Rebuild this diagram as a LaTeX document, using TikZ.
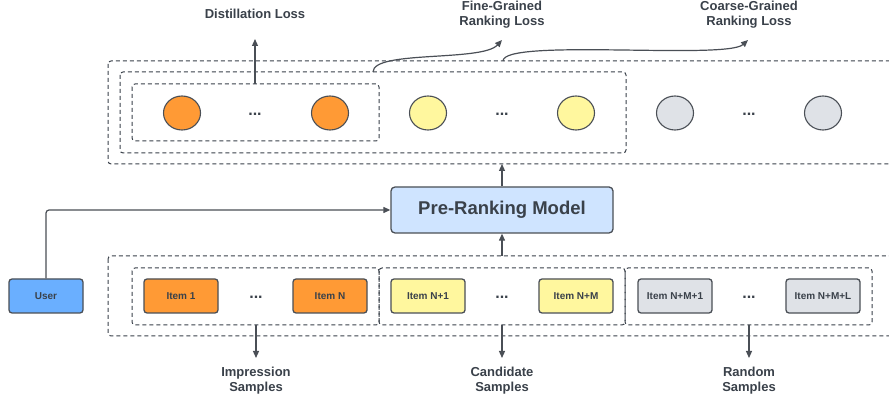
\documentclass[tikz,border=0pt]{standalone}
\usepackage{fontspec}
\setmainfont{Liberation Sans}
\usetikzlibrary{arrows.meta}
\definecolor{txt}{HTML}{3A414A}
\definecolor{ln}{HTML}{4A4F56}
\definecolor{orng}{HTML}{FF9A35}
\definecolor{ylw}{HTML}{FFF79E}
\definecolor{gry}{HTML}{DFE2E7}
\definecolor{mdl}{HTML}{CFE4FF}
\definecolor{usr}{HTML}{6AAFFF}
\tikzset{
  grp/.style={draw=txt, line width=1pt, dash pattern=on 4pt off 3pt, rounded corners=3pt},
  itembox/.style={draw=ln, line width=1.3pt, rounded corners=3pt, minimum width=74pt, minimum height=34pt, inner sep=0pt, font=\bfseries\fontsize{10}{12}\selectfont, text=txt},
  circ/.style={ellipse, draw=ln, line width=1.1pt, minimum width=37pt, minimum height=34pt, inner sep=0pt},
  lbl/.style={font=\bfseries\fontsize{13}{15}\selectfont, text=txt, align=center, inner sep=0pt},
  dots/.style={font=\bfseries\fontsize{16}{16}\selectfont, text=txt, inner sep=0pt},
  arr/.style={draw=ln, line width=1.2pt, -{Triangle[length=7pt,width=6pt]}},
}
\usetikzlibrary{shapes.geometric}
\begin{document}
\begin{tikzpicture}[x=1pt,y=-1pt]
\useasboundingbox (0,0) rectangle (889,403);
\fill[white] (0,0) rectangle (889,403);
\clip (0,0) rectangle (889,403);
% top groups
\draw[grp] (108,61) rectangle (900,164);
\draw[grp] (120,72) rectangle (626,153);
\draw[grp] (132,84) rectangle (379,141);
\node[circ, fill=orng] (c1) at (182,113) {};
\node[dots] (d1) at (255,114) {...};
\node[circ, fill=orng] (c2) at (330,113) {};
\node[circ, fill=ylw] (c3) at (428,113) {};
\node[dots] (d2) at (502,114) {...};
\node[circ, fill=ylw] (c4) at (576,113) {};
\node[circ, fill=gry] (c5) at (675,113) {};
\node[dots] (d3) at (749,114) {...};
\node[circ, fill=gry] (c6) at (823,113) {};
% loss labels
\node[lbl] (dl) at (255,14) {Distillation Loss};
\node[lbl] (fl) at (502,14.5) {Fine-Grained\\Ranking Loss};
\node[lbl] (cl) at (749,14.5) {Coarse-Grained\\Ranking Loss};
\coordinate (dsrc) at (255,84);
\coordinate (dtip) at (255,39);
\coordinate (fsrc) at (373,72);
\coordinate (ftip) at (502,40);
\coordinate (csrc) at (503,61);
\coordinate (ctip) at (748,40);
\draw[arr] (dsrc) -- (dtip);
\draw[arr] (fsrc) .. controls (373,50) and (482,62) .. (ftip);
\draw[arr] (csrc) .. controls (503,38) and (726,60) .. (ctip);
% model
\node[draw=ln, line width=1.3pt, rounded corners=4pt, fill=mdl, minimum width=222pt, minimum height=46pt, inner sep=0pt, font=\bfseries\fontsize{18.5}{20}\selectfont, text=txt] (model) at (502,210) {Pre-Ranking Model};
\coordinate (mtop) at (502,164);
\coordinate (mbot) at (502,256);
\draw[arr] (model.north) -- (mtop);
\draw[arr] (mbot) -- (model.south);
% user
\node[itembox, fill=usr] (user) at (46,296) {User};
\draw[arr, rounded corners=3pt] (user.north) |- (model.west);
% bottom groups
\draw[grp] (108,256) rectangle (900,336);
\draw[grp] (132,268) rectangle (379,325);
\draw[grp] (379,268) rectangle (625,325);
\draw[grp] (625,268) rectangle (872,325);
\node[itembox, fill=orng] (i1) at (181,296) {Item 1};
\node[dots] (e1) at (256,297) {...};
\node[itembox, fill=orng] (i2) at (330,296) {Item N};
\node[itembox, fill=ylw] (i3) at (428,296) {Item N+1};
\node[dots] (e2) at (502,297) {...};
\node[itembox, fill=ylw] (i4) at (576,296) {Item N+M};
\node[itembox, fill=gry] (i5) at (675,296) {Item N+M+1};
\node[dots] (e3) at (749,297) {...};
\node[itembox, fill=gry] (i6) at (823,296) {Item N+M+L};
% sample labels
\node[lbl] (il) at (256,380.5) {Impression\\Samples};
\node[lbl] (cdl) at (502,380.5) {Candidate\\Samples};
\node[lbl] (rl) at (749,380.5) {Random\\Samples};
\coordinate (s1) at (256,325);
\coordinate (s2) at (502,325);
\coordinate (s3) at (749,325);
\coordinate (t1) at (256,358);
\coordinate (t2) at (502,358);
\coordinate (t3) at (749,358);
\draw[arr] (s1) -- (t1);
\draw[arr] (s2) -- (t2);
\draw[arr] (s3) -- (t3);
\end{tikzpicture}
\end{document}
